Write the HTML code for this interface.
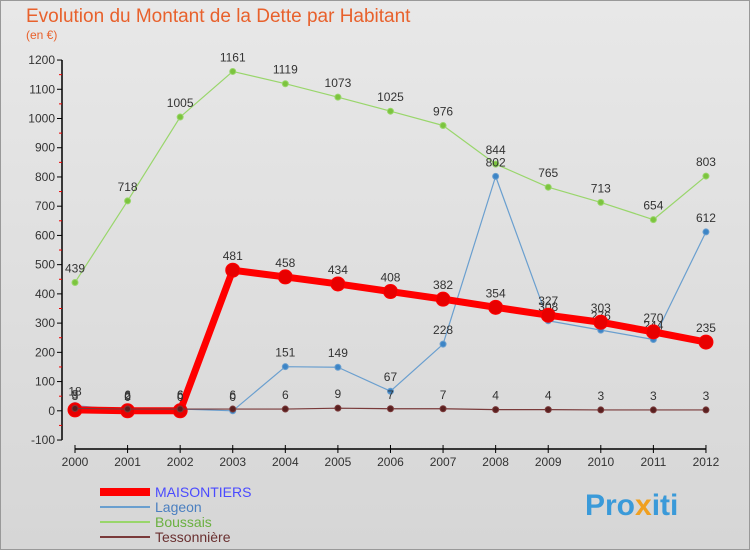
<!DOCTYPE html>
<html><head><meta charset="utf-8"><style>
body{margin:0;width:750px;height:550px;overflow:hidden;background:#fff;font-family:"Liberation Sans",sans-serif}
#c{position:absolute;left:0;top:0;width:748px;height:548px;border:1px solid #999;background:linear-gradient(#e8e8e8,#d6d6d6)}
</style></head><body>
<div id="c"></div>
<svg id="s" width="750" height="550" style="position:absolute;left:0;top:0" font-family="Liberation Sans, sans-serif">
<text x="26" y="22" font-size="19" fill="#e8612c">Evolution du Montant de la Dette par Habitant</text>
<text x="26" y="39" font-size="12" fill="#e8612c">(en €)</text>
<g id="g"></g>
<text x="585" y="515" font-size="30" font-weight="bold" fill="#3a9ad9">Pro<tspan fill="#f0a020">x</tspan>iti</text>
</svg>
<script>
const years=[2000,2001,2002,2003,2004,2005,2006,2007,2008,2009,2010,2011,2012];
const ticks=[-100,0,100,200,300,400,500,600,700,800,900,1000,1100,1200];
const maisontiers=[3,0,0,481,458,434,408,382,354,327,303,270,235];
const lageon=[18,2,6,0,151,149,67,228,802,308,276,244,612];
const boussais=[439,718,1005,1161,1119,1073,1025,976,844,765,713,654,803];
const tessonniere=[8,6,6,6,6,9,7,7,4,4,3,3,3];
const NS="http://www.w3.org/2000/svg",g=document.getElementById('g');
const X=i=>75+i*52.58, Y=v=>410.8-v*0.2923;
function el(t,a,p){const e=document.createElementNS(NS,t);for(const k in a)e.setAttribute(k,a[k]);(p||g).appendChild(e);return e;}
// axes
let ax=el('line',{x1:62,y1:Y(1200),x2:62,y2:Y(-100),stroke:'#000','stroke-width':1.5});


ticks.forEach(t=>{el('line',{x1:57,y1:Y(t),x2:62,y2:Y(t),stroke:'#000'});
 if(t<1200)el('line',{x1:59,y1:Y(t+50),x2:62,y2:Y(t+50),stroke:'#e00'});
 const tx=el('text',{x:55,y:Y(t)+4,'font-size':12,'text-anchor':'end',fill:'#333'});tx.textContent=t;
 
 });
let xa=el('line',{x1:X(0),y1:449,x2:X(12),y2:449,stroke:'#000','stroke-width':1.5});


years.forEach((y,i)=>{el('line',{x1:X(i),y1:445,x2:X(i),y2:453,stroke:'#000'});
 const tx=el('text',{x:X(i),y:466,'font-size':12,'text-anchor':'middle',fill:'#333'});tx.textContent=y;
 
 });
function series(d,col,dot,w,r,name){
 const p=el('polyline',{points:d.map((v,i)=>X(i)+','+Y(v)).join(' '),fill:'none',stroke:col,'stroke-width':w,'stroke-linejoin':'round'});
 
 
 d.forEach((v,i)=>{const c=el('circle',{cx:X(i),cy:Y(v),r:r,fill:dot,stroke:col,'stroke-width':1});
  
  
  const t=el('text',{x:X(i),y:Y(v)-10,'font-size':12,'text-anchor':'middle',fill:'#333'});t.textContent=v;
  
  });
}
series(boussais,'#99d66b','#7cc43e',1.2,3,'boussais');
series(lageon,'#6a9fcf','#3d85c6',1.2,3,'lageon');
series(maisontiers,'#ff0000','#e80000',7,7,'maisontiers');
series(tessonniere,'#7a3a3a','#5a2020',1.2,3,'tessonniere');
const legend=[['MAISONTIERS','#ff0000',8,'#4a4aff'],['Lageon','#6a9fcf',2,'#4a7fc0'],['Boussais','#99d66b',2,'#6ab040'],['Tessonnière','#7a3a3a',2,'#6a3030']];
legend.forEach((l,i)=>{const y=492+i*15;
 el('line',{x1:100,y1:y,x2:150,y2:y,stroke:l[1],'stroke-width':l[2]});
 const t=el('text',{x:155,y:y+5,'font-size':14,fill:l[3]});t.textContent=l[0];
 
 });
</script>
</body></html>
